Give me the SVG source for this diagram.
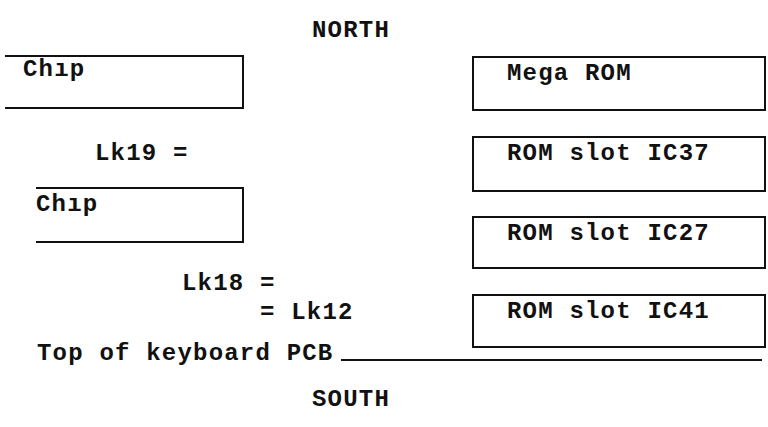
<svg xmlns="http://www.w3.org/2000/svg" width="768" height="427" viewBox="0 0 768 427">
<style>
text{font-family:"Liberation Mono","DejaVu Sans Mono",monospace;font-size:24px;font-weight:bold;fill:#111;letter-spacing:1.2px}
.b{fill:none;stroke:#111;stroke-width:2}
</style>
<rect width="768" height="427" fill="#fff"/>
<text x="312" y="37">NORTH</text>
<text x="312" y="406">SOUTH</text>
<g id="chip1"><path class="b" d="M5 56H243V108H5"/><text x="23" y="76">Chıp</text></g>
<g id="megarom"><rect class="b" x="473" y="57" width="292" height="53"/><text x="507" y="80">Mega ROM</text></g>
<g id="ic37"><rect class="b" x="473" y="137" width="292" height="54"/><text x="507" y="160">ROM slot IC37</text></g>
<g id="chip2"><path class="b" d="M36 188H243V242H36"/><text x="36" y="211">Chıp</text></g>
<g id="ic27"><rect class="b" x="473" y="217" width="292" height="51"/><text x="507" y="240">ROM slot IC27</text></g>
<g id="ic41"><rect class="b" x="473" y="295" width="292" height="52"/><text x="507" y="318">ROM slot IC41</text></g>
<g id="links">
<text x="95" y="160">Lk19 =</text>
<text x="182" y="290">Lk18 =</text>
<text x="260" y="319">= Lk12</text>
</g>
<g id="pcb"><text x="37" y="360">Top of keyboard PCB</text><path class="b" d="M341 360H762"/></g>
</svg>
